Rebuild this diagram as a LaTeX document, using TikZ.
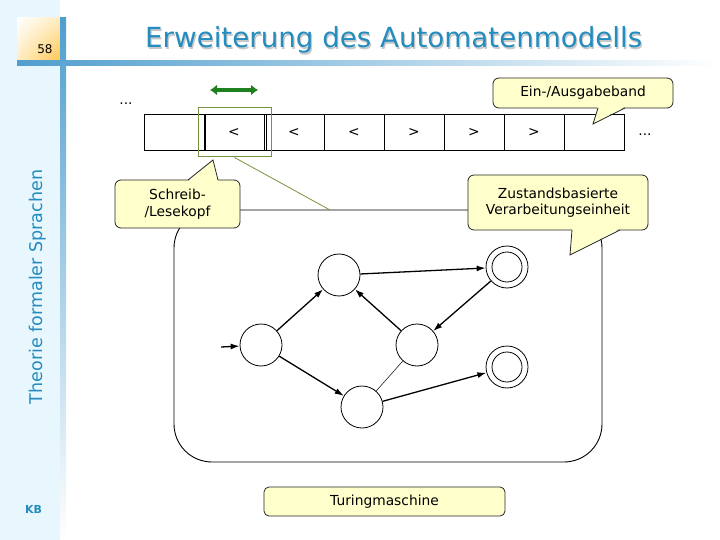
\documentclass[tikz,border=0pt]{standalone}
\usepackage{fontspec}
\setmainfont{DejaVu Sans}
\usetikzlibrary{arrows.meta,shadings}
\definecolor{titleblue}{RGB}{36,140,190}
\definecolor{sidebg}{RGB}{232,246,253}
\definecolor{barblue}{RGB}{80,158,206}
\definecolor{calloutfill}{RGB}{255,255,204}
\definecolor{headgreen}{RGB}{119,147,60}
\definecolor{arrowgreen}{RGB}{30,128,30}
\definecolor{pgold}{RGB}{255,200,80}
\definecolor{plight}{RGB}{255,236,195}
\begin{document}
\begin{tikzpicture}[x=1pt,y=-1pt,
  bodyfont/.style={font=\fontsize{13.8}{16.5}\selectfont},
  cell/.style={draw, line width=0.9pt, minimum width=60pt, minimum height=36pt, inner sep=0pt, bodyfont},
  state/.style={circle, draw, line width=0.8pt, minimum size=42pt, inner sep=0pt},
  callout/.style={draw=black!85, line width=0.8pt, fill=calloutfill, rounded corners=6pt, inner sep=0pt, align=center, bodyfont},
  trans/.style={-{Latex[length=9pt,width=6pt]}, line width=1.3pt},
  sidetext/.style={text=titleblue}
]
\useasboundingbox (0,0) rectangle (720,540);
% sidebar and frame bars
\fill[sidebg] (0,0) rectangle (60,540);
\shade[upper left=white, upper right=plight, lower left=plight, lower right=pgold] (17,18) rectangle (60,61);
\shade[left color=barblue, right color=white] (17,61) rectangle (720,66);
\shade[top color=barblue, middle color=barblue!40, bottom color=white] (60,18) rectangle (66,540);
\node[anchor=base, inner sep=0pt, font=\fontsize{12}{14}\selectfont] (pnum) at (45,54) {58};
\node[anchor=base, rotate=90, inner sep=0pt, sidetext, font=\fontsize{17.5}{20}\selectfont] (course) at (42,287) {Theorie formaler Sprachen};
\node[anchor=base, inner sep=0pt, sidetext, font=\fontsize{11}{13}\bfseries\selectfont] (kb) at (33.5,513) {KB};
% title
\node[anchor=base west, inner sep=0pt, text=black!22, font=\fontsize{27.7}{32}\selectfont] (titleshadow) at (146.2,49.2) {Erweiterung des Automatenmodells};
\node[anchor=base west, inner sep=0pt, text=titleblue, font=\fontsize{27.7}{32}\selectfont] (title) at (145,48) {Erweiterung des Automatenmodells};
% processing unit box
\node[draw, line width=0.9pt, rounded corners=38pt, minimum width=428pt, minimum height=252pt, inner sep=0pt] (tmbox) at (388,336) {};
% tape
\node[cell] (c1) at (174,132) {};
\node[cell] (c2) at (234,132) {<};
\node[cell] (c3) at (294,132) {<};
\node[cell] (c4) at (354,132) {<};
\node[cell] (c5) at (414,132) {>};
\node[cell] (c6) at (474,132) {>};
\node[cell] (c7) at (534,132) {>};
\node[cell] (c8) at (594,132) {};
\draw[line width=0.9pt] ([xshift=2pt]c2.north west) -- ([xshift=2pt]c2.south west);
\draw[line width=0.9pt] ([xshift=2pt]c2.north east) -- ([xshift=2pt]c2.south east);
\node[bodyfont, inner sep=0pt] (dl) at (126,104) {...};
\node[bodyfont, inner sep=0pt] (dr) at (645,135) {...};
% head
\node[draw=headgreen, line width=1pt, minimum width=73pt, minimum height=49pt, inner sep=0pt] (head) at (234.5,132.5) {};
\coordinate (ga) at (210,90);
\coordinate (gb) at (258,90);
\draw[arrowgreen, line width=4pt, {Latex[length=7pt,width=11pt]}-{Latex[length=7pt,width=11pt]}] (ga) -- (gb);
\coordinate (hl) at (330,210);
\draw[headgreen, line width=0.8pt] (head.south) -- (hl);
% callouts
\node[callout, minimum width=125pt, minimum height=48pt] (lk) at (177.5,204) {Schreib-\\/Lesekopf};
\fill[calloutfill] (188,181.5) -- (213,160) -- (218,181.5) -- cycle;
\draw[black!85, line width=0.8pt] (188,180) -- (213,160) -- (218,180);
\node[callout, minimum width=180pt, minimum height=55pt] (zv) at (558,202.5) {Zustandsbasierte\\Verarbeitungseinheit};
\fill[calloutfill] (572,228.5) -- (570,255) -- (620,228.5) -- cycle;
\draw[black!85, line width=0.8pt] (572,230) -- (570,255) -- (620,230);
\node[callout, minimum width=180pt, minimum height=30pt] (band) at (583,93) {Ein-/Ausgabeband};
\fill[calloutfill] (598,106.5) -- (593,124) -- (625,106.5) -- cycle;
\draw[black!85, line width=0.8pt] (598,108) -- (593,124) -- (625,108);
\node[callout, minimum width=241pt, minimum height=29pt, rounded corners=5pt] (tm) at (384.5,501.5) {Turingmaschine};
% automaton
\node[state] (s0) at (261,345) {};
\node[state] (s1) at (339,275) {};
\node[state] (s2) at (362,407) {};
\node[state] (s3) at (417,345) {};
\node[state] (f1) at (507,267) {};
\node[state] (f2) at (507,367) {};
\draw[line width=0.8pt] (f1) circle (15pt);
\draw[line width=0.8pt] (f2) circle (15pt);
\coordinate (st) at (221,347);
\draw[trans] (st) -- (s0);
\draw[trans] (s0) -- (s1);
\draw[trans] (s0) -- (s2);
\draw[trans] (s1) -- (f1);
\draw[trans] (f1) -- (s3);
\draw[trans] (s3) -- (s1);
\draw[trans] (s2) -- (f2);
\draw[line width=0.5pt] (s3) -- (s2);
\end{tikzpicture}
\end{document}
